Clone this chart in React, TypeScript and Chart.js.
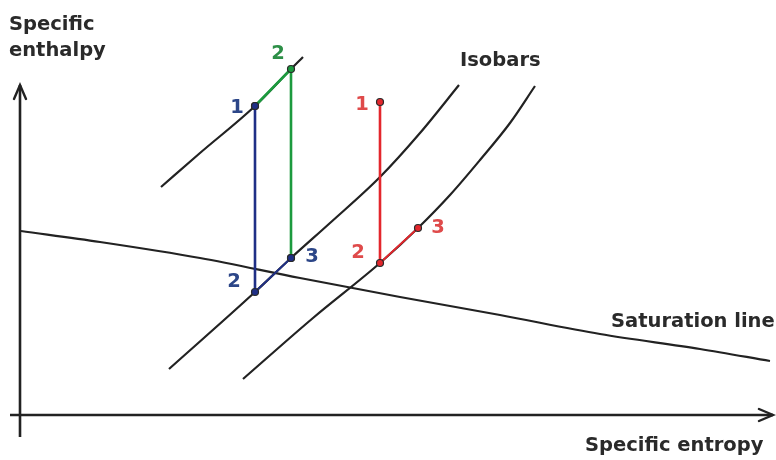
import React, { useEffect, useRef } from "react";
import { Chart, registerables } from "chart.js";

Chart.register(...registerables);

// Abstract diagram units: s = specific entropy, h = specific enthalpy
const isobarHighS = [161, 200, 255, 291, 303];
const isobarHighH = [273, 307, 354, 391, 403];
const isobarMidS = [169, 255, 291, 330, 380, 420, 459];
const isobarMidH = [91, 168, 202, 237, 283, 327, 375];
const isobarLowS = [243, 313, 380, 418, 450, 480, 510, 535];
const isobarLowH = [81, 142, 197, 232, 265, 300, 337, 374];
const saturationS = [21, 100, 200, 300, 400, 500, 600, 700, 770];
const saturationH = [229, 218, 202, 182, 163, 145, 126, 111, 99];

const blueS = [255, 255, 291];
const blueH = [354, 168, 202];
const greenS = [255, 291, 291];
const greenH = [354, 391, 202];
const redS = [380, 380, 418];
const redH = [358, 197, 232];

const yAxisS = [20, 20];
const yAxisH = [23, 375];
const xAxisS = [10, 773];
const xAxisH = [45, 45];

const blueLabels = ["1", "2", "3"];
const blueLabelS = [237, 234, 312];
const blueLabelH = [352, 178, 203];
const greenLabels = ["2"];
const greenLabelS = [278];
const greenLabelH = [406];
const redLabels = ["1", "2", "3"];
const redLabelS = [362, 358, 438];
const redLabelH = [355, 207, 232];

const titleTexts = ["Specific", "enthalpy", "Isobars", "Saturation line", "Specific entropy"];
const titleS = [9, 9, 460, 611, 585];
const titleH = [430, 404, 394, 133, 9];

const zip = (xs: number[], ys: number[]) => xs.map((x, i) => ({ x, y: ys[i] }));

const BLACK = "#222222";
const BLUE = "#1f2f86";
const GREEN = "#1c9a3e";
const RED = "#e3262c";
const FONT = 'bold 19.5px "DejaVu Sans"';

const textPlugin = {
  id: "diagramText",
  afterDatasetsDraw(chart: any) {
    const { ctx, scales } = chart;
    const px = (v: number) => scales.x.getPixelForValue(v);
    const py = (v: number) => scales.y.getPixelForValue(v);
    ctx.save();
    // arrowheads
    ctx.strokeStyle = BLACK;
    ctx.lineWidth = 2.4;
    ctx.lineCap = "round";
    const yt = { x: px(yAxisS[1]), y: py(yAxisH[1]) };
    ctx.beginPath();
    ctx.moveTo(yt.x - 6, yt.y + 14);
    ctx.lineTo(yt.x, yt.y);
    ctx.lineTo(yt.x + 6, yt.y + 14);
    ctx.stroke();
    const xt = { x: px(xAxisS[1]), y: py(xAxisH[1]) };
    ctx.beginPath();
    ctx.moveTo(xt.x - 14, xt.y - 6);
    ctx.lineTo(xt.x, xt.y);
    ctx.lineTo(xt.x - 14, xt.y + 6);
    ctx.stroke();

    // titles
    ctx.font = FONT;
    ctx.fillStyle = "#2a2a2a";
    ctx.textAlign = "left";
    ctx.textBaseline = "alphabetic";
    titleTexts.forEach((t, i) => ctx.fillText(t, px(titleS[i]), py(titleH[i])));

    // point numbers
    ctx.textAlign = "center";
    ctx.textBaseline = "middle";
    ctx.font = FONT;
    const draw = (labels: string[], s: number[], h: number[], color: string) => {
      ctx.fillStyle = color;
      labels.forEach((t, i) => ctx.fillText(t, px(s[i]), py(h[i])));
    };
    draw(blueLabels, blueLabelS, blueLabelH, "#2c4688");
    draw(greenLabels, greenLabelS, greenLabelH, "#2d8f47");
    draw(redLabels, redLabelS, redLabelH, "#df4a4a");
    ctx.restore();
  },
};

export default function App() {
  const ref = useRef<HTMLCanvasElement>(null);
  useEffect(() => {
    if (!ref.current) return;
    const curve = (data: any, width = 2.2) => ({
      type: "line" as const,
      data,
      borderColor: BLACK,
      borderWidth: width,
      pointRadius: 0,
      showLine: true,
      cubicInterpolationMode: "monotone" as const,
      order: 5,
    });
    const process = (data: any, color: string, thin?: number) => ({
      type: "line" as const,
      data,
      borderColor: color,
      borderWidth: 2.6,
      pointRadius: 3.5,
      pointBackgroundColor: color,
      pointBorderColor: "#2a2a2a",
      pointBorderWidth: 1.2,
      showLine: true,
      tension: 0,
      order: 0,
      segment: thin !== undefined
        ? { borderWidth: (c: any) => (c.p0DataIndex === thin ? 1.8 : 2.6) }
        : undefined,
    });
    const chart = new Chart(ref.current, {
      type: "scatter",
      data: {
        datasets: [
          process(zip(blueS, blueH), BLUE, 1),
          process(zip(greenS, greenH), GREEN),
          process(zip(redS, redH), RED, 1),
          curve(zip(isobarHighS, isobarHighH)),
          curve(zip(isobarMidS, isobarMidH)),
          curve(zip(isobarLowS, isobarLowH)),
          curve(zip(saturationS, saturationH)),
          { ...curve(zip(yAxisS, yAxisH), 2.6), order: 10, cubicInterpolationMode: "default" as const, tension: 0 },
          { ...curve(zip(xAxisS, xAxisH), 2.6), order: 10, cubicInterpolationMode: "default" as const, tension: 0 },
        ] as any,
      },
      options: {
        responsive: false,
        animation: false,
        devicePixelRatio: 1,
        layout: { padding: 0, autoPadding: false },
        plugins: { legend: { display: false }, tooltip: { enabled: false } },
        scales: {
          x: { type: "linear", min: 0, max: 776, display: false },
          y: { type: "linear", min: 0, max: 460, display: false },
        },
      },
      plugins: [textPlugin],
    });
    return () => chart.destroy();
  }, []);
  return (
    <div style={{ position: "fixed", left: 0, top: 0, width: 776, height: 460, background: "#fff" }}>
      <canvas ref={ref} width={776} height={460} />
    </div>
  );
}
